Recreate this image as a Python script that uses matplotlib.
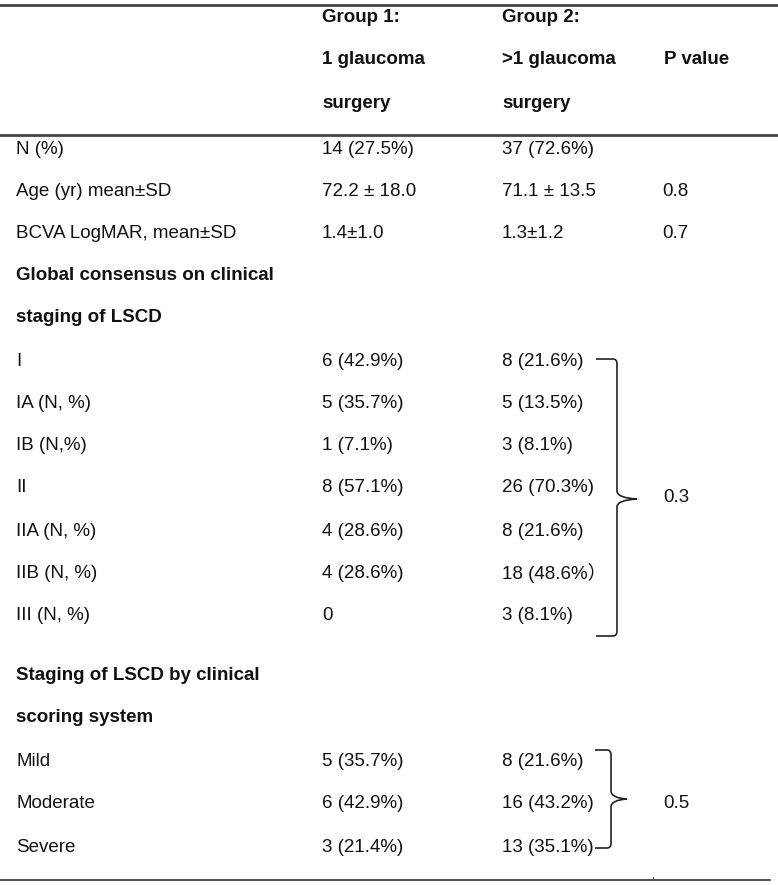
import matplotlib
matplotlib.use('Agg')
import matplotlib.pyplot as plt
from matplotlib.path import Path
from matplotlib.patches import PathPatch

plt.rcParams['font.family'] = ['Liberation Sans', 'Noto Sans CJK SC', 'DejaVu Sans']

# table content
header_g1 = ["Group 1:", "1 glaucoma", "surgery"]
header_g2 = ["Group 2:", ">1 glaucoma", "surgery"]
header_p = "P value"

labels = ["N (%)", "Age (yr) mean±SD", "BCVA LogMAR, mean±SD",
          "Global consensus on clinical", "staging of LSCD",
          "I", "IA (N, %)", "IB (N,%)", "II", "IIA (N, %)", "IIB (N, %)", "III (N, %)",
          "Staging of LSCD by clinical", "scoring system",
          "Mild", "Moderate", "Severe"]
group1 = ["14 (27.5%)", "72.2 ± 18.0", "1.4±1.0", "", "",
          "6 (42.9%)", "5 (35.7%)", "1 (7.1%)", "8 (57.1%)", "4 (28.6%)", "4 (28.6%)", "0",
          "", "", "5 (35.7%)", "6 (42.9%)", "3 (21.4%)"]
group2 = ["37 (72.6%)", "71.1 ± 13.5", "1.3±1.2", "", "",
          "8 (21.6%)", "5 (13.5%)", "3 (8.1%)", "26 (70.3%)", "8 (21.6%)", "18 (48.6%）", "3 (8.1%)",
          "", "", "8 (21.6%)", "16 (43.2%)", "13 (35.1%)"]
pvals = ["", "0.8", "0.7", "", "", "", "", "", "", "", "", "", "", "", "", "", ""]
bold_rows = [3, 4, 12, 13]

# row centres in pixels
row_y = [149, 191, 233, 276, 318, 361, 403, 446, 488, 531, 573, 616, 676, 718, 762, 804, 848]
head_y = [17, 60, 103]

W, H = 778, 885
fig = plt.figure(figsize=(W / 100, H / 100), dpi=100)
ax = fig.add_axes([0, 0, 1, 1])
ax.set_xlim(0, W)
ax.set_ylim(H, 0)
ax.axis('off')

x_lab, x_g1, x_g2, x_p = 16, 322, 502, 662
fs = 13.5
col = '#111111'

for y, t1, t2 in zip(head_y, header_g1, header_g2):
    ax.text(x_g1, y, t1, fontsize=fs, weight='bold', va='center', color=col)
    ax.text(x_g2, y, t2, fontsize=fs, weight='bold', va='center', color=col)
ax.text(664, head_y[1], header_p, fontsize=fs, weight='bold', va='center', color=col)

for i, y in enumerate(row_y):
    w = 'bold' if i in bold_rows else 'normal'
    ax.text(x_lab, y, labels[i], fontsize=fs, weight=w, va='center', color=col)
    ax.text(x_g1, y, group1[i], fontsize=fs, va='center', color=col)
    ax.text(x_g2, y, group2[i], fontsize=fs, va='center', color=col)
    ax.text(x_p, y, pvals[i], fontsize=fs, va='center', color=col)

# rules
ax.plot([0, W], [5, 5], color='#444444', lw=2)
ax.plot([0, W], [135, 135], color='#444444', lw=2)
ax.plot([0, 770], [880, 880], color='#333333', lw=1.2)
ax.plot([653, 653], [877, 880], color='#555555', lw=0.8)


def brace(x0, x1, tip, y0, y1, ym):
    verts = [(x0, y0), (x1 - 4, y0), (x1, y0), (x1, y0 + 5),
             (x1, ym - 8), (x1, ym - 1), (tip, ym),
             (x1, ym + 1), (x1, ym + 8),
             (x1, y1 - 5), (x1, y1), (x1 - 4, y1), (x0, y1)]
    codes = [Path.MOVETO, Path.LINETO, Path.CURVE3, Path.CURVE3,
             Path.LINETO, Path.CURVE3, Path.CURVE3,
             Path.CURVE3, Path.CURVE3,
             Path.LINETO, Path.CURVE3, Path.CURVE3, Path.LINETO]
    ax.add_patch(PathPatch(Path(verts, codes), fill=False, lw=1.2, color='#222222'))


brace(596, 617, 637, row_y[5] - 2, row_y[11] + 20, 499)
ax.text(x_p + 1, 497, "0.3", fontsize=fs, va='center', color=col)
brace(595, 611, 627, row_y[14] - 12, row_y[16], 799)
ax.text(x_p + 1, 803, "0.5", fontsize=fs, va='center', color=col)

fig.savefig('out.png', dpi=100)
